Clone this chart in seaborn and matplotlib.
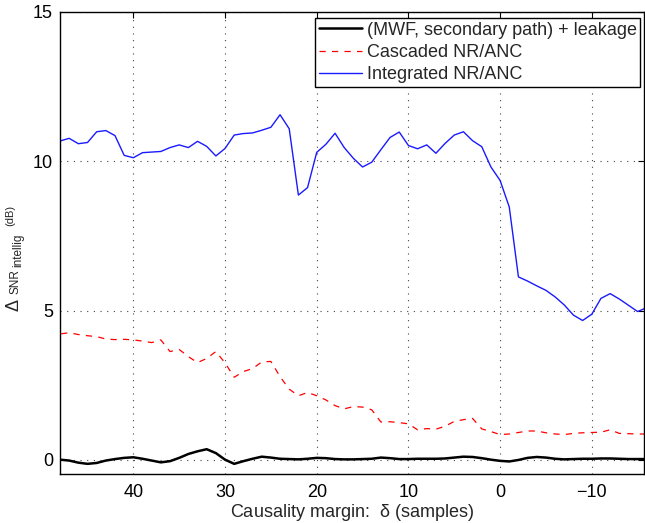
import matplotlib
matplotlib.use("Agg")
import matplotlib.pyplot as plt
import seaborn as sns
import pandas as pd

# Causality margin delta (samples)
delta = [48, 47, 46, 45, 44, 43, 42, 41, 40, 39, 38, 37, 36, 35, 34, 33, 32,
         31, 30, 29, 28, 27, 26, 25, 24, 23, 22, 21, 20, 19, 18, 17, 16, 15,
         14, 13, 12, 11, 10, 9, 8, 7, 6, 5, 4, 3, 2, 1, 0, -1, -2, -3, -4, -5,
         -6, -7, -8, -9, -10, -11, -12, -13, -14, -15, -16]

# Delta SNR_intellig (dB) per configuration
mwf_leakage = [0.01, -0.02, -0.09, -0.13, -0.10, -0.02, 0.03, 0.07, 0.09, 0.04,
               -0.02, -0.08, -0.04, 0.07, 0.20, 0.29, 0.36, 0.23, 0.01, -0.13,
               -0.04, 0.04, 0.11, 0.08, 0.04, 0.03, 0.02, 0.04, 0.07, 0.06,
               0.03, 0.02, 0.02, 0.03, 0.04, 0.08, 0.06, 0.03, 0.03, 0.04,
               0.04, 0.04, 0.05, 0.08, 0.11, 0.10, 0.06, 0.01, -0.03, -0.05,
               0.00, 0.07, 0.10, 0.08, 0.04, 0.02, 0.03, 0.04, 0.04, 0.05,
               0.05, 0.04, 0.03, 0.03, 0.03]

cascaded = [4.22, 4.26, 4.20, 4.16, 4.13, 4.05, 4.03, 4.04, 4.02, 3.98, 3.93,
            4.02, 3.63, 3.70, 3.46, 3.26, 3.40, 3.63, 3.25, 2.77, 2.96, 3.06,
            3.28, 3.30, 2.79, 2.37, 2.15, 2.26, 2.15, 2.01, 1.82, 1.71, 1.79,
            1.77, 1.68, 1.27, 1.28, 1.25, 1.21, 1.01, 1.05, 1.03, 1.13, 1.29,
            1.35, 1.39, 1.04, 0.95, 0.85, 0.87, 0.92, 0.97, 0.97, 0.91, 0.87,
            0.85, 0.89, 0.91, 0.92, 0.93, 1.01, 0.89, 0.88, 0.87, 0.87]

integrated = [10.68, 10.77, 10.59, 10.63, 10.99, 11.03, 10.86, 10.20, 10.12,
              10.29, 10.31, 10.33, 10.46, 10.55, 10.46, 10.67, 10.50, 10.18,
              10.43, 10.88, 10.93, 10.95, 11.04, 11.14, 11.56, 11.09, 8.87,
              9.12, 10.30, 10.57, 10.94, 10.46, 10.10, 9.81, 9.97, 10.39,
              10.80, 10.98, 10.53, 10.42, 10.55, 10.27, 10.60, 10.88, 10.99,
              10.69, 10.49, 9.81, 9.36, 8.47, 6.13, 5.99, 5.83, 5.68, 5.46,
              5.19, 4.85, 4.67, 4.88, 5.41, 5.57, 5.39, 5.18, 4.97, 5.10]

series_names = ["(MWF, secondary path) + leakage", "Cascaded NR/ANC",
                "Integrated NR/ANC"]
x_ticks = [40, 30, 20, 10, 0, -10]
y_ticks = [0, 5, 10, 15]

df = pd.DataFrame({"delta": delta, "mwf": mwf_leakage,
                   "cascaded": cascaded, "integrated": integrated})

sns.set_style("white")
plt.rcParams["font.family"] = ["Liberation Sans", "DejaVu Sans"]
plt.rcParams["mathtext.fontset"] = "custom"
plt.rcParams["mathtext.rm"] = "Liberation Sans"
plt.rcParams["mathtext.it"] = "Liberation Sans"

W, H = 645, 523
fig = plt.figure(figsize=(W / 100, H / 100), dpi=100)
ax = fig.add_axes([60 / W, 49 / H, 584.5 / W, 462 / H])

sns.lineplot(data=df, x="delta", y="mwf", ax=ax, color="black", lw=1.8,
             label=series_names[0])
sns.lineplot(data=df, x="delta", y="cascaded", ax=ax, color="#ff0000", lw=0.9,
             label=series_names[1])
sns.lineplot(data=df, x="delta", y="integrated", ax=ax, color="#1a1aff", lw=1.0,
             label=series_names[2])
ax.lines[1].set_linestyle((0, (5, 5)))

ax.set_xlim(48, -15.75)
ax.set_ylim(-0.47, 15)
ax.set_xticks(x_ticks)
ax.set_yticks(y_ticks)

ax.grid(True, linestyle=(0, (1, 5)), color="#444444", linewidth=0.8)
ax.tick_params(direction="in", length=4, width=0.8, top=True, right=True,
               labelsize=13, colors="black")
ax.tick_params(axis="x", pad=7)
ax.tick_params(axis="y", pad=5)
for sp in ax.spines.values():
    sp.set_color("black")
    sp.set_linewidth(1.0)

ax.set_xlabel(r"Causality margin:  $\delta$ (samples)", fontsize=13, labelpad=1)
ax.set_ylabel("")


# Y-axis label assembled from pieces: Delta, SNR, subscript, superscript
def vtext(x_px, y_px, s, size):
    fig.text(x_px / W, 1 - y_px / H, s, fontsize=size, rotation=90,
             rotation_mode="anchor", ha="left", va="baseline")


vtext(18.5, 311, "\u0394", 13)
vtext(18.5, 294, "SNR", 8.5)
vtext(21.5, 267, "intellig", 8.5)
vtext(13.5, 226, "(dB)", 8)

leg = ax.legend(loc="upper right", bbox_to_anchor=(0.993, 0.987),
                borderaxespad=0, frameon=True, fancybox=False, fontsize=13,
                handlelength=2.4, handletextpad=0.25, labelspacing=0.3,
                borderpad=0.2)
leg.get_frame().set_edgecolor("black")
leg.get_frame().set_linewidth(1.0)
leg.get_frame().set_alpha(1.0)

fig.savefig("out.png", dpi=100)
